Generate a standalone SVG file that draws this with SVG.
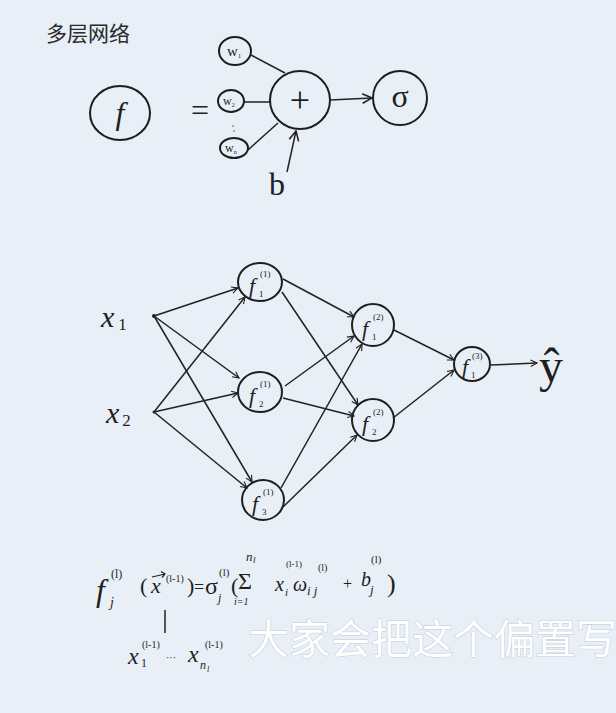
<svg xmlns="http://www.w3.org/2000/svg" width="616" height="713" viewBox="0 0 616 713">
<defs>
<marker id="arr" viewBox="0 0 10 10" refX="9" refY="5" markerWidth="8" markerHeight="8" orient="auto" markerUnits="userSpaceOnUse">
<path d="M1,1 L9,5 L1,9" fill="none" stroke="#222" stroke-width="1.4"/>
</marker>
<marker id="arrL" viewBox="0 0 10 10" refX="9" refY="5" markerWidth="12" markerHeight="12" orient="auto" markerUnits="userSpaceOnUse">
<path d="M1,1 L9,5 L1,9" fill="none" stroke="#222" stroke-width="1.3"/>
</marker>
</defs>
<style>
.n{fill:none;stroke:#1e1e1e;stroke-width:2}
.e{fill:none;stroke:#222;stroke-width:1.5}
.t{font-family:"Liberation Serif","DejaVu Serif",serif;fill:#1e1e1e}
.i{font-style:italic}
.r{font-style:normal}
.cjk{font-family:"Noto Sans CJK SC",sans-serif;fill:#2a2a2a}
.sub{font-family:"Noto Sans CJK SC",sans-serif;fill:#ffffff;stroke:#c3ccd6;stroke-width:1;paint-order:stroke}
</style>
<rect width="616" height="713" fill="#e8eff7"/>

<text class="cjk" x="46" y="41" font-size="21">多层网络</text>

<!-- top: single neuron -->
<g id="node-f">
<ellipse class="n" cx="120" cy="113" rx="30" ry="27"/>
<text class="t i" x="120" y="124" font-size="32" text-anchor="middle">f</text>
</g>
<text class="t" x="200" y="121" font-size="32" text-anchor="middle">=</text>
<g id="node-w1">
<ellipse class="n" cx="235" cy="51" rx="16" ry="14"/>
<text class="t" x="227" y="56" font-size="15">w<tspan font-size="7" dy="2">1</tspan></text>
</g>
<g id="node-w2">
<ellipse class="n" cx="231" cy="101" rx="13" ry="11"/>
<text class="t" x="223" y="105" font-size="12">w<tspan font-size="6" dy="2">2</tspan></text>
</g>
<g id="node-wn">
<ellipse class="n" cx="234" cy="148" rx="14" ry="10"/>
<text class="t" x="225" y="152" font-size="12">w<tspan font-size="6" dy="2">n</tspan></text>
</g>
<circle cx="233" cy="126" r="0.8" fill="#555"/>
<circle cx="234" cy="131" r="0.8" fill="#555"/>
<g id="node-sum">
<ellipse class="n" cx="300" cy="100" rx="30" ry="29"/>
<text class="t" x="300" y="112" font-size="36" text-anchor="middle">+</text>
</g>
<g id="node-sigma">
<ellipse class="n" cx="400" cy="98" rx="27" ry="27"/>
<text class="t" x="400" y="107" font-size="32" text-anchor="middle">σ</text>
</g>
<text class="t" x="277" y="195" font-size="32" text-anchor="middle">b</text>

<g id="connectors-top">
<path class="e" d="M251,55 L285,73"/>
<path class="e" d="M244,102 L270,102"/>
<path class="e" d="M248,150 L278,123"/>
<path class="e" d="M287,172 L296,131" marker-end="url(#arrL)"/>
<path class="e" d="M330,100 L372,98" marker-end="url(#arrL)"/>
</g>

<!-- network -->
<text class="t i" x="101" y="327" font-size="30">x<tspan class="r" font-size="17" dx="4" dy="3">1</tspan></text>
<text class="t i" x="106" y="423" font-size="30">x<tspan class="r" font-size="17" dx="3" dy="3">2</tspan></text>
<circle cx="154" cy="316" r="2" fill="#1e1e1e"/>
<circle cx="154" cy="412" r="1.5" fill="#1e1e1e"/>

<g id="node-f11">
<ellipse class="n" cx="260" cy="282" rx="22" ry="19"/>
<text class="t i" x="249" y="293" font-size="22">f<tspan class="r" x="259" y="297" font-size="9">1</tspan><tspan class="r" x="260" y="277" font-size="9">(1)</tspan></text>
</g>
<g id="node-f21">
<ellipse class="n" cx="260" cy="392" rx="22" ry="20"/>
<text class="t i" x="249" y="403" font-size="22">f<tspan class="r" x="259" y="407" font-size="9">2</tspan><tspan class="r" x="260" y="387" font-size="9">(1)</tspan></text>
</g>
<g id="node-f31">
<ellipse class="n" cx="263" cy="500" rx="21" ry="20"/>
<text class="t i" x="252" y="511" font-size="22">f<tspan class="r" x="262" y="515" font-size="9">3</tspan><tspan class="r" x="263" y="495" font-size="9">(1)</tspan></text>
</g>
<g id="node-f12">
<ellipse class="n" cx="373" cy="325" rx="21" ry="21"/>
<text class="t i" x="362" y="336" font-size="22">f<tspan class="r" x="372" y="340" font-size="9">1</tspan><tspan class="r" x="373" y="320" font-size="9">(2)</tspan></text>
</g>
<g id="node-f22">
<ellipse class="n" cx="373" cy="420" rx="21" ry="21"/>
<text class="t i" x="362" y="431" font-size="22">f<tspan class="r" x="372" y="435" font-size="9">2</tspan><tspan class="r" x="373" y="415" font-size="9">(2)</tspan></text>
</g>
<g id="node-f13">
<ellipse class="n" cx="472" cy="364" rx="18" ry="17"/>
<text class="t i" x="462" y="374" font-size="22">f<tspan class="r" x="471" y="378" font-size="9">1</tspan><tspan class="r" x="472" y="359" font-size="9">(3)</tspan></text>
</g>
<text class="t" x="551" y="382" font-size="48" text-anchor="middle">ŷ</text>

<g id="connectors">
<path class="e" d="M154,316 L238,288" marker-end="url(#arr)"/>
<path class="e" d="M154,316 L239,378" marker-end="url(#arr)"/>
<path class="e" d="M154,316 L252,482" marker-end="url(#arr)"/>
<path class="e" d="M154,412 L245,297" marker-end="url(#arr)"/>
<path class="e" d="M154,412 L238,393" marker-end="url(#arr)"/>
<path class="e" d="M154,412 L247,488" marker-end="url(#arr)"/>
<path class="e" d="M283,279 L354,317" marker-end="url(#arr)"/>
<path class="e" d="M282,292 L358,405" marker-end="url(#arr)"/>
<path class="e" d="M285,386 L354,336" marker-end="url(#arr)"/>
<path class="e" d="M283,398 L354,416" marker-end="url(#arr)"/>
<path class="e" d="M281,488 L362,344" marker-end="url(#arr)"/>
<path class="e" d="M283,507 L357,435" marker-end="url(#arr)"/>
<path class="e" d="M394,330 L454,360" marker-end="url(#arr)"/>
<path class="e" d="M393,418 L454,370" marker-end="url(#arr)"/>
<path class="e" d="M491,365 L537,363" marker-end="url(#arr)"/>
</g>

<!-- formula -->
<g id="formula">
<text class="t i" x="96" y="601" font-size="32">f<tspan x="110" y="607" font-size="14">j</tspan><tspan class="r" x="111" y="578" font-size="12">(l)</tspan><tspan class="r" x="140" y="593" font-size="22">(</tspan><tspan x="151" y="593" font-size="22">x</tspan><tspan class="r" x="166" y="582" font-size="10">(l-1)</tspan><tspan class="r" x="187" y="593" font-size="22">)</tspan><tspan class="r" x="194" y="593" font-size="18">=</tspan><tspan class="r" x="205" y="594" font-size="24">σ</tspan><tspan x="218" y="602" font-size="12">j</tspan><tspan class="r" x="219" y="576" font-size="11">(l)</tspan><tspan class="r" x="231" y="593" font-size="22">(</tspan><tspan class="r" x="238" y="589" font-size="24">Σ</tspan><tspan x="246" y="561" font-size="13">n</tspan><tspan x="253" y="563" font-size="9">l</tspan><tspan x="234" y="605" font-size="10">i=1</tspan><tspan x="275" y="591" font-size="20">x</tspan><tspan x="285" y="596" font-size="11">i</tspan><tspan class="r" x="286" y="567" font-size="9">(l-1)</tspan><tspan x="293" y="591" font-size="20">ω</tspan><tspan x="307" y="595" font-size="13">i j</tspan><tspan class="r" x="318" y="571" font-size="10">(l)</tspan><tspan class="r" x="343" y="589" font-size="16">+</tspan><tspan x="361" y="586" font-size="20">b</tspan><tspan x="370" y="594" font-size="13">j</tspan><tspan class="r" x="371" y="563" font-size="11">(l)</tspan><tspan class="r" x="387" y="592" font-size="26">)</tspan></text>
<path d="M152,577 L165,574 M161,571.5 L165,574 L162,577.5" fill="none" stroke="#222" stroke-width="1.2"/>
<path class="e" d="M165,610 L165,633"/>
<text class="t i" x="128" y="664" font-size="24">x<tspan class="r" x="141" y="667" font-size="12">1</tspan><tspan class="r" x="142" y="648" font-size="10">(l-1)</tspan><tspan class="r" x="166" y="661" font-size="10">···</tspan><tspan x="188" y="662" font-size="24">x</tspan><tspan x="200" y="669" font-size="12">n</tspan><tspan x="207" y="672" font-size="8">l</tspan><tspan class="r" x="205" y="648" font-size="10">(l-1)</tspan></text>
</g>

<text class="sub" x="248" y="654" font-size="41">大家会把这个偏置写</text>
</svg>
